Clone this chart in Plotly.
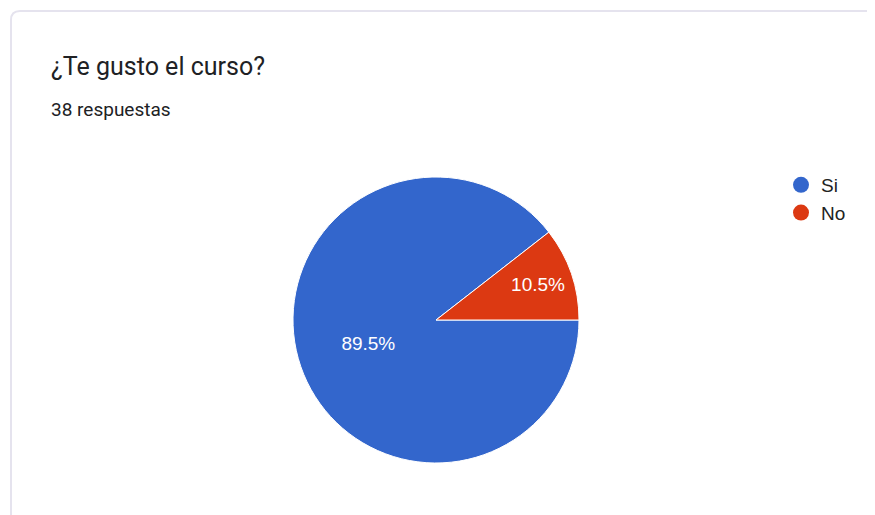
import plotly.graph_objects as go

labels = ["Si", "No"]
values = [34, 4]
colors = ["#3366CC", "#DC3912"]
title = "¿Te gusto el curso?"
subtitle = "38 respuestas"

W, H = 875, 515
OFF = 8  # page body margin offset


def px(x):
    return (x - OFF) / W


def py(y):
    return 1 - (y - OFF) / H


fig = go.Figure()
fig.add_trace(go.Pie(
    labels=labels, values=values, sort=False, direction="clockwise", rotation=90,
    marker=dict(colors=colors, line=dict(color="white", width=1)),
    textinfo="percent", texttemplate="%{percent:.1%}", textposition="inside",
    insidetextfont=dict(color="white", size=19, family="Liberation Sans, Arial"),
    insidetextorientation="horizontal",
    domain=dict(x=[px(436 - 143), px(436 + 143)], y=[py(463), py(177)]),
    showlegend=False, hoverinfo="label+percent",
))
for lab, col in zip(labels, colors):
    fig.add_trace(go.Scatter(
        x=[None], y=[None], mode="markers", name=lab,
        marker=dict(color=col, size=20, symbol="circle"),
        showlegend=True,
    ))

card = (f"M {px(11)},{py(530)} L {px(11)},{py(20)} Q {px(11)},{py(11)} {px(20)},{py(11)} "
        f"L {px(890)},{py(11)}")

fig.update_layout(
    width=W, height=H,
    margin=dict(l=0, r=0, t=0, b=0),
    paper_bgcolor="white", plot_bgcolor="white",
    xaxis=dict(visible=False), yaxis=dict(visible=False),
    showlegend=True,
    legend=dict(x=px(781), y=py(166), xanchor="left", yanchor="top",
                font=dict(family="Liberation Sans, Arial", size=19, color="#222222"),
                itemsizing="trace", tracegroupgap=0, bgcolor="rgba(0,0,0,0)"),
    shapes=[dict(type="path", path=card, xref="paper", yref="paper",
                 line=dict(color="#e5e3ee", width=2), layer="below")],
    annotations=[
        dict(text=title, x=px(49), y=py(66), xref="paper", yref="paper",
             xanchor="left", yanchor="middle", showarrow=False,
             font=dict(family="Roboto, Open Sans", size=25, color="#202124")),
        dict(text=subtitle, x=px(49), y=py(109), xref="paper", yref="paper",
             xanchor="left", yanchor="middle", showarrow=False,
             font=dict(family="Roboto, Open Sans", size=19, color="#202124")),
    ],
)

fig.write_html("out.html")
